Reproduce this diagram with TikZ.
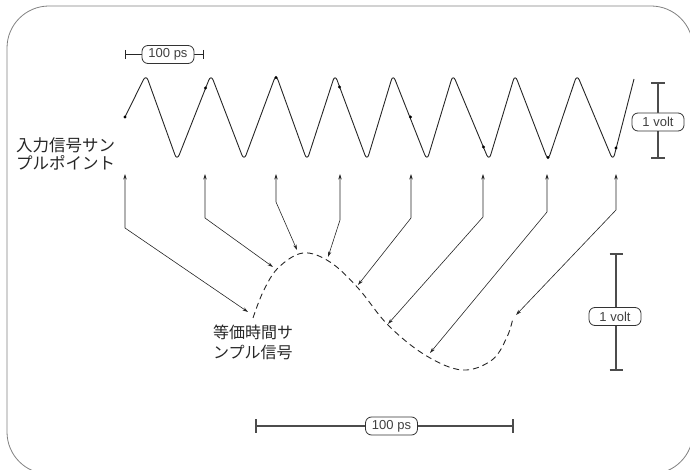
\documentclass[tikz,border=0pt]{standalone}
\usepackage{fontspec}
\setmainfont{Liberation Sans}
\newfontfamily\jp{Noto Sans CJK JP}
\usetikzlibrary{arrows.meta}
\begin{document}
\begin{tikzpicture}[x=1pt,y=-1pt,
  wave/.style={draw=black!85, line width=0.9pt, rounded corners=6pt, line join=round},
  sdot/.style={circle, fill=black, inner sep=0pt, minimum size=3.4pt},
  arr/.style={draw=black!85, line width=0.6pt, {Stealth[length=5.5pt,width=3.4pt]}-{Stealth[length=5.5pt,width=3.4pt]}},
  eqs/.style={draw=black!85, line width=0.9pt, dash pattern=on 6pt off 4pt},
  scalebar/.style={draw=black!70, line width=1.2pt},
  tag/.style={draw=black!80, line width=0.8pt, fill=white, rounded corners=6pt, minimum width=52pt, minimum height=18pt, inner sep=0pt, font=\fontsize{13}{14}\selectfont, text=black!75},
  jlabel/.style={align=left, inner sep=0pt, text=black!85, anchor=west},
]
\useasboundingbox (0,0) rectangle (690,470);
% frame
\draw[black!50, line width=0.8pt, rounded corners=42pt] (7,6) rectangle (693,474);

% input waveform
\draw[wave] (125,117) -- (146,74.5) -- (177,160.5) -- (211,74.5) -- (244,160.5) -- (276,74.5)
  -- (307,160.5) -- (335,74.5) -- (367,160.5) -- (393,74.5) -- (427,160.5) -- (453,74.5)
  -- (489,160.5) -- (515,74.5) -- (548,160.5) -- (577,74.5) -- (613,160.5) -- (634,79);

% sample points
\node[sdot] (s1) at (125,117) {};
\node[sdot] (s2) at (205.5,88) {};
\node[sdot] (s3) at (276,77.5) {};
\node[sdot] (s4) at (339.5,87) {};
\node[sdot] (s5) at (410.5,117) {};
\node[sdot] (s6) at (483.5,147) {};
\node[sdot] (s7) at (548,157.5) {};
\node[sdot] (s8) at (616,148) {};

% labels
\node[jlabel, font=\jp\fontsize{16.5}{18.5}\selectfont] (inlab) at (16,154) {入力信号サン\\プルポイント};
\node[jlabel, font=\jp\fontsize{16}{20}\selectfont] (eqlab) at (213,342) {等価時間サ\\ンプル信号};

% equivalent-time signal
\draw[eqs] plot[smooth, tension=0.6] coordinates {(253,318) (263,292) (278,268) (303,253) (330,262) (358,288) (388,325) (425,355) (462,370) (492,360) (507,337) (513,318)};

% arrow coordinates
\foreach \i/\x/\b/\ex/\ey in {1/125/228/248/312, 2/205/218/273/267, 3/276/202/297/250, 4/340/220/328/257,
  5/411/218/358/285, 6/483/217/388/324, 7/547/212/430/353, 8/616/210/516/315}{
  \coordinate (t\i) at (\x,174);
  \coordinate (b\i) at (\x,\b);
  \coordinate (e\i) at (\ex,\ey);
}
\foreach \i in {1,...,8}{
  \draw[arr] (t\i) -- (b\i) -- (e\i);
}

% top 100 ps scale
\coordinate (pa) at (125,54.5);
\coordinate (pb) at (203,54.5);
\draw[scalebar, black!85, line width=1pt] (pa) -- (pb);
\draw[scalebar, black!85, line width=1pt] ([yshift=4.5pt]pa) -- ([yshift=-4.5pt]pa);
\draw[scalebar, black!85, line width=1pt] ([yshift=4.5pt]pb) -- ([yshift=-4.5pt]pb);
\node[tag] (psA) at (168,54.5) {100 ps};

% top 1 volt scale
\coordinate (va) at (658,83);
\coordinate (vb) at (658,158);
\draw[scalebar] (va) -- (vb);
\draw[scalebar] ([xshift=-7pt]va) -- ([xshift=7pt]va);
\draw[scalebar] ([xshift=-7pt]vb) -- ([xshift=7pt]vb);
\node[tag] (voltA) at (658,122) {1 volt};

% lower 1 volt scale
\coordinate (wa) at (616,254);
\coordinate (wb) at (616,370);
\draw[scalebar] (wa) -- (wb);
\draw[scalebar] ([xshift=-6.5pt]wa) -- ([xshift=6.5pt]wa);
\draw[scalebar] ([xshift=-6.5pt]wb) -- ([xshift=6.5pt]wb);
\node[tag] (voltB) at (615,316.5) {1 volt};

% bottom 100 ps scale
\coordinate (qa) at (256,426);
\coordinate (qb) at (513,426);
\draw[scalebar] (qa) -- (qb);
\draw[scalebar] ([yshift=7pt]qa) -- ([yshift=-7pt]qa);
\draw[scalebar] ([yshift=7pt]qb) -- ([yshift=-7pt]qb);
\node[tag] (psB) at (391.5,426) {100 ps};
\end{tikzpicture}
\end{document}
